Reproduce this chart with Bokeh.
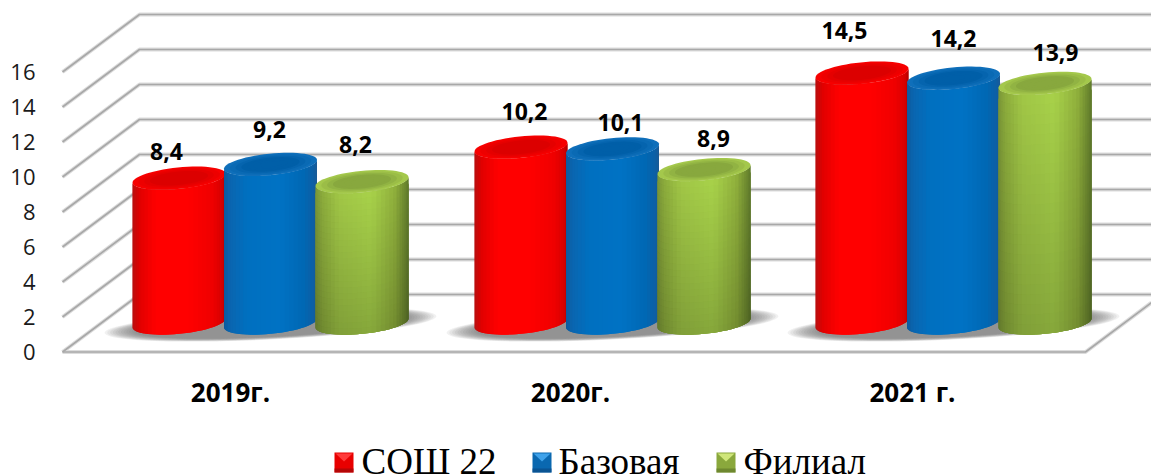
import numpy as np
from bokeh.embed import file_html
from bokeh.layouts import column
from bokeh.resources import INLINE
from bokeh.plotting import figure
from bokeh.models import FixedTicker, ColumnDataSource, LinearAxis
from bokeh.core.properties import value

# ---- data
categories = ["2019г.", "2020г.", "2021 г."]
series_names = ["СОШ 22", "Базовая", "Филиал"]
sosh22 = [8.4, 10.2, 14.5]
bazovaya = [9.2, 10.1, 14.2]
filial = [8.2, 8.9, 13.9]
value_labels = [["8,4", "10,2", "14,5"], ["9,2", "10,1", "14,2"], ["8,2", "8,9", "13,9"]]
y_ticks = [0, 2, 4, 6, 8, 10, 12, 14, 16]

# ---- layout (page pixels)
FL, FR, FT, FB = 60, 1151, 0, 356
PX = 17.5
Y0 = 351.5
def Y(img):
    return (Y0 - np.asarray(img, dtype=float)) / PX
DX, DY = 77, 57.5 / PX
XFRONT, XFLOOR = 62, 1085
group_x = [270, 612, 953]
cat_x = [230, 570, 912]
step, HW, B, K = 91.5, 46.5, 10.8, 0.095
BASE = (Y0 - 322.5) / PX
BAR_SCALE = 0.985
label_off = [[(-12.5, 26.7), (3.5, 35.7), (-17.5, 42.5)],
             [(-1, 35), (8, 26), (0, 40)],
             [(-6.5, 37), (9.5, 31), (10.5, 31)]]
LEG_TOP, LEG_BOTTOM = 420, 475
legend_swatch_x = [334, 532, 716]
legend_text_x = [361, 558, 743]
LEG_TEXT_Y = 461

p = figure(width=FR, height=LEG_TOP, frame_width=FR - FL, frame_height=FB - FT, output_backend="svg", toolbar_location=None,
           x_range=(FL, FR), y_range=(float(Y(FB)), float(Y(FT))),
           x_axis_location=None, y_axis_location=None,
           min_border_left=FL, min_border_right=0, min_border_top=0, min_border_bottom=LEG_TOP - FB,
           outline_line_color=None, background_fill_color="white", border_fill_color="white")
p.grid.visible = False

ya = LinearAxis(ticker=FixedTicker(ticks=y_ticks), axis_line_color=None, major_tick_line_color=None,
                minor_tick_line_color=None, major_label_text_font="Open Sans",
                major_label_text_font_size="22px", major_label_text_color="#1a1a1a", major_label_standoff=19)
p.add_layout(ya, "left")
xa = LinearAxis(ticker=FixedTicker(ticks=cat_x), axis_line_color=None, major_tick_line_color=None,
                minor_tick_line_color=None, major_label_text_font="Open Sans", major_label_text_font_style="bold",
                major_label_text_font_size="26px", major_label_text_color="#000000", major_label_standoff=11,
                major_label_overrides={x: c for x, c in zip(cat_x, categories)})
p.add_layout(xa, "below")

# 3-D grid
gx, gy = [], []
for t in y_ticks:
    gx.append([XFRONT, XFRONT + DX, FR]); gy.append([t, t + DY, t + DY])
gx.append([XFRONT, XFLOOR, FR]); gy.append([0, 0, DY * (FR - XFLOOR) / DX])
p.multi_line(gx, gy, line_color="#dcdcdc", line_width=4)
p.multi_line(gx, gy, line_color="#a8a8a8", line_width=1.6)

def ell(cx, cy, a, b, k):
    t = np.linspace(0, 2 * np.pi, 60)
    return cx + a * np.cos(t), Y(cy + b * np.sin(t) - k * a * np.cos(t))

# soft shadows
for g, cx in enumerate(group_x):
    for s in np.linspace(1.0, .82, 12):
        xs, ys = ell(cx, 324, 166 * s, 15 * s, .05)
        p.patch(xs, ys, fill_color="#606060", fill_alpha=.09, line_color=None)

# cylinders
shade_stops = [-1, -.85, -.5, .2, .7, .92, 1]
shades = [
    ['#b81010', '#e00000', '#ff0000', '#ff0000', '#f00000', '#d80000', '#b00000'],
    ['#0c5a9e', '#0a66b0', '#0070c0', '#0072c4', '#0068b4', '#0d5fa5', '#1c5a94'],
    ['#7a9638', '#8cac3c', '#a0c646', '#a8d24a', '#90b03c', '#6e8a30', '#5f7a2c'],
]
bottom_dim = [1.0, 1.0, .8]
cap_colors = [['#f60000', '#dc0000'], ['#0f6fba', '#005fa8'], ['#a4c84c', '#88a83e']]
swatch_colors = [['#e80000', '#ff3a3a', '#a80808'], ['#0a68b0', '#3fa2ea', '#0a4f8c'], ['#8aa83c', '#cfe67a', '#667f2c']]
def rgb(h):
    return np.array([int(h[i:i + 2], 16) for i in (1, 3, 5)], dtype=float)
def hexc(c):
    return "#%02x%02x%02x" % tuple(int(round(min(255, max(0, v)))) for v in c)
def front(yc, u):
    return yc + B * np.sqrt(np.maximum(0, 1 - u * u)) - K * HW * u

N_STRIP, N_BAND = 30, 24
all_vals = [sosh22, bazovaya, filial]
for si, vals in enumerate(all_vals):
    stops = np.array([rgb(c) for c in shades[si]])
    xsl, ysl, cols = [], [], []
    us = np.cos(np.linspace(np.pi, 0, N_STRIP + 1))
    bands = N_BAND if bottom_dim[si] < 1 else 1
    for g, v in enumerate(vals):
        cx = group_x[g] + (si - 1) * step
        ytop = Y0 - PX * (BASE + BAR_SCALE * v)
        ybot = Y0 - PX * BASE
        for j in range(bands):
            # every band reaches down and every strip over its neighbour: no seams
            f0, f1 = j / bands, min(1, (j + 2) / bands)
            for i in range(N_STRIP):
                um = (us[i] + us[i + 1]) / 2
                uu = us[i:min(i + 3, N_STRIP + 1)]
                col = np.array([np.interp(um, shade_stops, stops[:, c]) for c in range(3)])
                up = front(ytop, uu) * (1 - f0) + front(ybot, uu) * f0
                lo = front(ytop, uu) * (1 - f1) + front(ybot, uu) * f1
                xsl.append(list(cx + HW * uu) + list(cx + HW * uu[::-1]))
                ysl.append(list(Y(up)) + list(Y(lo[::-1])))
                dim = 1 - (1 - bottom_dim[si]) * (j + .5) / bands
                cols.append(hexc(col * dim))
    src = ColumnDataSource(dict(xs=xsl, ys=ysl, c=cols))
    p.patches("xs", "ys", source=src, fill_color="c", line_color=None)
    # caps: rim fading to a darker centre
    rim, mid = rgb(cap_colors[si][0]), rgb(cap_colors[si][1])
    for f in np.linspace(0, 1, 7):
        scale = 1 - .75 * f
        cxs, cys = [], []
        for g, v in enumerate(vals):
            cx = group_x[g] + (si - 1) * step
            ytop = Y0 - PX * (BASE + BAR_SCALE * v)
            xs, ys = ell(cx, ytop, HW * scale, B * scale, K)
            cxs.append(list(xs)); cys.append(list(ys))
        p.patches(cxs, cys, fill_color=hexc(rim + (mid - rim) * min(1, f * 2)), line_color=None)

# value labels
for si, vals in enumerate(all_vals):
    for g, v in enumerate(vals):
        cx = group_x[g] + (si - 1) * step
        dx, dy = label_off[si][g]
        ytop = Y0 - PX * (BASE + BAR_SCALE * v)
        p.text([cx + dx], [float(Y(ytop - dy))], text=[value_labels[si][g]], text_font=value("Open Sans"),
               text_font_style="bold", text_font_size="23px", text_color="#000000",
               text_align="center", text_baseline="middle")

# legend strip: a second figure directly below, its frame aligned with the chart's
leg = figure(width=FR, height=LEG_BOTTOM - LEG_TOP, frame_width=FR - FL, frame_height=LEG_BOTTOM - LEG_TOP,
             output_backend="svg", toolbar_location=None,
             x_range=(FL, FR), y_range=(LEG_BOTTOM, LEG_TOP), x_axis_location=None, y_axis_location=None,
             min_border_left=FL, min_border_right=0, min_border_top=0, min_border_bottom=0, outline_line_color=None)
leg.grid.visible = False
S, ST = 19, 452
for si, name in enumerate(series_names):
    x0 = legend_swatch_x[si]
    body, light, dark = swatch_colors[si]
    leg.quad(left=x0, right=x0 + S, top=ST, bottom=ST + S + 1, fill_color=body, line_color=None)
    leg.quad(left=x0, right=x0 + S, top=ST + S - 3, bottom=ST + S + 1, fill_color=dark, fill_alpha=.8, line_color=None)
    leg.patch([x0 + 1, x0 + S - 1, x0 + S / 2], [ST + 1, ST + 1, ST + 9], fill_color=light, line_color=None)
    leg.text([legend_text_x[si]], [LEG_TEXT_Y], text=[name], text_font=value("Liberation Serif"), text_font_size="37px",
             text_color="#000000", text_align="left", text_baseline="middle")

open("out.html", "w").write(file_html(column(p, leg, spacing=0), INLINE))
